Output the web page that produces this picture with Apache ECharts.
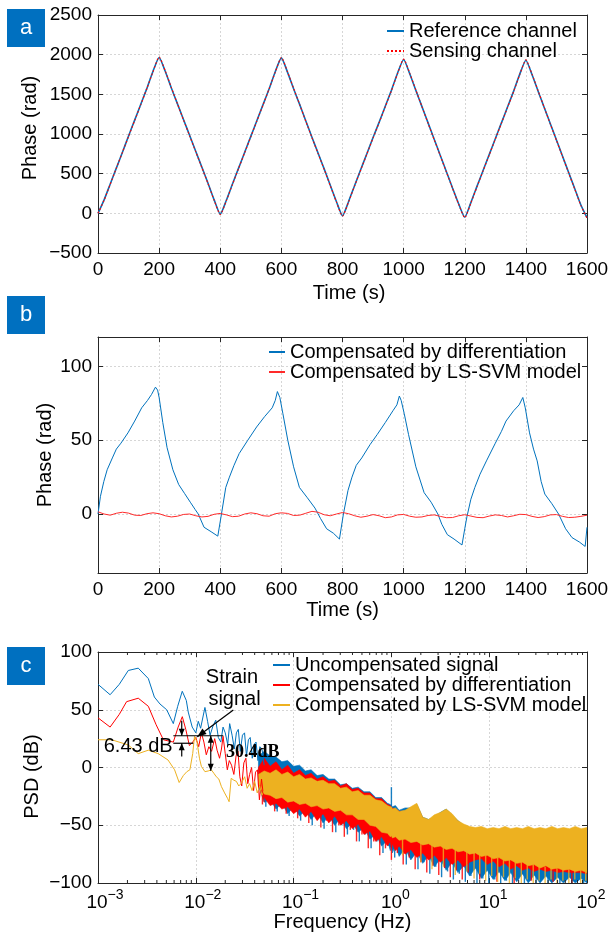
<!DOCTYPE html>
<html>
<head>
<meta charset="utf-8">
<script src="https://cdn.jsdelivr.net/npm/echarts@6/dist/echarts.min.js"></script>
<style>
  html, body { margin: 0; padding: 0; background: #fff; }
  #chart { width: 609px; height: 934px; }
</style>
</head>
<body>
<div id="chart"></div>
<script>
// ---------- panel a : phase of both channels ----------
const timeA = [0,20,40,60,80,100,120,140,160,180,200,220,240,260,280,300,320,340,360,380,
  400,420,440,460,480,500,520,540,560,580,600,620,640,660,680,700,720,740,760,780,
  800,820,840,860,880,900,920,940,960,980,1000,1020,1040,1060,1080,1100,1120,1140,1160,1180,
  1200,1220,1240,1260,1280,1300,1320,1340,1360,1380,1400,1420,1440,1460,1480,1500,1520,1540,1560,1580,1600];
const refPhase = [0,170,370,570,770,975,1175,1375,1575,1790,1965,1790,1580,1380,1180,980,780,580,380,170,
  -10,165,370,570,770,970,1170,1370,1570,1785,1960,1780,1570,1370,1165,960,760,560,355,150,
  -30,150,355,555,755,955,1150,1350,1550,1765,1940,1760,1550,1345,1140,935,730,525,320,120,
  -50,135,340,540,740,940,1140,1340,1540,1755,1930,1750,1540,1335,1130,925,720,515,310,105,-55];
const sensePhase = [0,165,365,570,770,970,1170,1370,1575,1785,1970,1795,1585,1380,1175,975,775,575,375,165,
  -15,160,365,565,765,965,1165,1365,1570,1780,1965,1785,1575,1370,1160,955,755,555,350,145,
  -35,145,350,550,750,950,1145,1345,1545,1760,1945,1765,1555,1345,1135,930,725,520,315,115,
  -55,130,335,535,735,935,1135,1335,1535,1750,1935,1755,1545,1335,1125,920,715,510,305,100,-60];

// ---------- panel b : compensated phase ----------
const timeDiff = [0,8,19,30,47,60,75,98,120,143,162,175,188,195,200,212,226,245,264,283,
  302,318,328,347,370,392,404,418,430,445,462,490,519,545,570,580,587,595,605,621,
  640,659,685,710,728,748,770,790,803,818,831,845,863,890,914,940,965,978,986,992,
  1002,1016,1040,1067,1090,1112,1125,1143,1165,1191,1200,1207,1220,1233,1250,1271,1300,1320,1335,1360,
  1378,1390,1398,1412,1425,1437,1450,1462,1485,1507,1530,1551,1575,1594,1600];
const phaseDiff = [0,12,22,30,38,44,48,55,63,72,77,81,86,84,79,62,45,30,20,14,
  8,3,0,-9,-12,-15,0,18,25,33,41,50,59,66,72,77,83,79,68,50,
  32,18,11,4,-3,-10,-13,-17,0,16,25,33,38,47,54,62,70,74,80,77,
  68,54,32,14.5,8,0,-7,-14,-17,-21,-10,-2,10,18,27,36,48,56,63,70,
  74,79,72,55,44,36,22,13.5,7,0,-10,-16,-19,-22,-9];
const phaseSvm = [1.5,0,-0.8,0.5,1.2,0.6,-0.8,-1,0.2,0.8,
  0.2,-1.2,-2,-1.5,-0.3,0,-1.2,-2,-1.6,-0.2,
  0.4,-0.6,-1.8,-1.5,0,0.8,0.2,-1.2,-1.5,0.2,
  0.8,0.4,-1,-0.8,0.5,1.8,1.2,-0.5,-1.2,0,
  1,0.2,-1.2,-2.2,-1.5,-0.4,-1.2,-2.5,-2,-0.6,
  -0.3,-1.5,-2.2,-2,-1,-0.6,-1.6,-2.5,-2.4,-1.2,
  -0.5,-1.4,-2.3,-2.5,-1.4,-0.6,-1,-2,-1.2,-0.2,
  -0.4,-1.6,-2.4,-1.8,-0.6,-0.4,-1.6,-2.4,-2.2,-1.6,-0.8];

// ---------- panel c : PSD ----------
// low frequency part, drawn as lines
const freqUncomp = [0.001,0.00133,0.00165,0.00204,0.00258,0.00327,0.00377,0.0043,0.00504,0.00589,
  0.00653,0.00727,0.008,0.00837,0.00919,0.0100,0.0106,0.0112,0.0124,0.0132,
  0.0140,0.0150,0.0160,0.0170,0.0180,0.0190,0.0200,0.0212,0.0222,0.0235,
  0.0248,0.0260,0.0272,0.0285,0.0300,0.0315,0.0330,0.0345,0.0360,0.0378,
  0.0395,0.0413,0.0432,0.0452,0.0475,0.050];
const psdUncomp = [72,63,72,84,86,77,61,55,50,38,53,66,58,48,35,30,40,34,52,40,
  28,36,41,26,22,35,30,20,38,28,16,30,33,14,28,30,10,24,26,8,20,22,6,18,16,2];
const freqDiff = [0.001,0.00133,0.00165,0.00196,0.00258,0.00327,0.00393,0.00466,0.00589,0.0066,
  0.00728,0.0079,0.0086,0.0093,0.0100,0.0107,0.0114,0.0121,0.0128,0.0136,
  0.0145,0.0156,0.0165,0.0175,0.0183,0.0190,0.0200,0.0210,0.0220,0.0232,
  0.0245,0.0258,0.0270,0.0282,0.0295,0.0310,0.0325,0.0340,0.0355,0.0372,
  0.0390,0.0408,0.0427,0.0447,0.0470,0.050];
const psdDiff = [43,35,46,57,60,53,37,24,22,35,44,33,19,22,26,18,30,22,11,18,
  14,25,15,8,16,27,12,-2,6,2,-6,10,14,-8,-16,4,8,-14,-6,0,-20,-4,-2,-28,-10,-30];
const freqSvm = [0.001,0.00138,0.00204,0.00258,0.00327,0.00413,0.0052,0.00607,0.00676,0.00745,
  0.0081,0.0087,0.0093,0.0097,0.0103,0.0109,0.0114,0.0124,0.0134,0.0144,
  0.0153,0.0162,0.0172,0.0183,0.0197,0.0212,0.0219,0.0230,0.0245,0.026,
  0.0275,0.0292,0.0316,0.0335,0.0355,0.0376,0.040,0.0425,0.045,0.0475,0.050];
const psdSvm = [24,24,19.5,12,15,12,6.5,-2,-13,-7,-3.6,-2,12,27,22,8,1,-3.6,-3,-2,
  -5,-8,-10,-16.6,-22,-27,-29.6,-9.4,-11,-12,-16,-13.7,-8,-18,-14,-20,-12,-22,-16,-24,-20];

// dense part above ~0.04 Hz: upper and lower edge of each band
const bandFreq = [0.0437,0.0501,0.0575,0.0661,0.0759,0.0871,0.1,0.115,0.132,0.151,
  0.174,0.2,0.229,0.263,0.302,0.347,0.398,0.457,0.525,0.603,
  0.692,0.794,0.912,0.975,1.0,1.025,1.1,1.2,1.38,1.58,
  1.82,2.09,2.4,2.75,3.16,3.63,4.17,4.79,5.5,6.31,
  7.24,8.32,9.55,11,12.6,14.5,16.6,19.1,21.9,25.1,
  28.8,33.1,38,43.7,50.1,57.5,66.1,75.9,87.1,100];
const uncompTop = [10,14,10,9,5,6,1,2,-3,-2,-7,-6,-10,-10,-15,-14,-18,-17,-21,-21,
  -26,-26,-31,-32,-33,-34,-33,-37,-35,-35,-32,-43,-45,-43,-39,-36,-41,-46,-50,-52,
  -54,-54,-54,-55,-54,-55,-54,-55,-54,-55,-54,-55,-54,-55,-54,-55,-54,-55,-54,-55];
const uncompLow = [-16,-30,-28,-36,-31,-40,-34,-42,-37,-45,-39,-48,-42,-50,-44,-53,-48,-56,-52,-62,
  -58,-68,-63,-72,-66,-74,-67,-77,-70,-80,-73,-83,-76,-86,-79,-89,-82,-91,-85,-94,
  -87,-96,-89,-97,-90,-98,-91,-99,-92,-100,-93,-100,-94,-100,-95,-100,-95,-100,-96,-100];
const diffTop = [0,8,1,5,-2,2,-5,-2,-7,-5,-10,-8,-12,-11,-16,-14,-19,-18,-22,-22,
  -27,-27,-32,-33,-35,-35,-36,-38,-38,-36,-33,-44,-46,-43,-41,-38,-42,-47,-50,-52,
  -53,-52,-54,-53,-54,-52,-54,-53,-54,-52,-54,-53,-54,-52,-54,-53,-54,-52,-54,-53];
const diffLow = [-15,-26,-33,-31,-36,-34,-40,-36,-43,-38,-46,-40,-48,-42,-50,-46,-53,-49,-58,-55,
  -64,-60,-68,-64,-70,-66,-72,-68,-75,-71,-78,-74,-80,-76,-82,-78,-84,-80,-86,-82,
  -80,-79,-84,-81,-86,-83,-88,-85,-89,-87,-90,-88,-90,-89,-91,-90,-91,-91,-91,-92];
const svmTop = [-6,-3,-5,-2,-6,-4,-8,-6,-10,-9,-12,-11,-14,-14,-18,-17,-21,-20,-24,-24,
  -28,-29,-33,-34,-34,-36,-35,-38,-37,-34,-31,-43,-45,-41,-39,-36,-40,-46,-49,-51,
  -52,-51,-53,-52,-53,-51,-53,-52,-53,-51,-53,-52,-53,-51,-53,-52,-53,-51,-53,-52];
const svmLow = [-14,-23,-24,-27,-26,-30,-29,-32,-31,-34,-33,-36,-35,-38,-37,-41,-41,-45,-45,-50,
  -51,-56,-57,-60,-59,-61,-60,-63,-62,-65,-64,-67,-66,-69,-68,-71,-70,-73,-72,-75,
  -74,-77,-76,-79,-78,-81,-80,-83,-82,-85,-84,-87,-85,-88,-87,-89,-88,-90,-89,-91];

// single spikes that stick out of the bands: [frequency, from dB, to dB]
const spikesUncomp = [[0.052,-20,-34],[0.060,-22,-30],[0.068,-24,-38],[0.079,-25,-33],[0.090,-27,-42],
  [0.103,-28,-36],[0.118,-29,-46],[0.135,-30,-40],[0.155,-31,-50],[0.178,-32,-43],
  [0.205,-33,-53],[0.235,-34,-47],[0.27,-35,-56],[0.31,-36,-50],[0.355,-38,-58],
  [0.41,-40,-54],[0.47,-42,-64],[0.54,-44,-58],[0.62,-47,-70],[0.71,-50,-64],
  [0.82,-53,-74],[0.94,-56,-68],[1.0,-34,-17],[1.08,-58,-78],[1.24,-59,-72],[1.42,-60,-84],
  [1.63,-61,-78],[1.87,-62,-88],[2.15,-63,-82],[2.47,-64,-92],[2.84,-65,-86],
  [3.26,-66,-95],[3.75,-67,-90],[4.3,-68,-97],[4.95,-69,-92],[5.7,-70,-99],
  [6.5,-71,-94],[7.5,-72,-100],[8.6,-73,-96],[9.9,-74,-100],[11.4,-75,-97],
  [13.1,-76,-100],[15,-77,-98],[17.3,-78,-100],[19.9,-79,-97],[22.9,-80,-100],
  [26.3,-81,-98],[30.2,-82,-100],[34.7,-83,-97],[40,-84,-100],[46,-84,-98],
  [52.8,-85,-100],[60.7,-86,-97],[69.8,-86,-100],[80.3,-87,-98],[92.3,-87,-100]];
const spikesDiff = [[0.048,-20,-32],[0.056,-23,-30],[0.064,-26,-38],[0.072,-27,-33],[0.084,-29,-40],
  [0.096,-30,-36],[0.11,-31,-44],[0.125,-32,-39],[0.143,-33,-48],[0.165,-34,-42],
  [0.19,-35,-52],[0.218,-36,-46],[0.25,-37,-56],[0.29,-38,-50],[0.33,-40,-60],
  [0.38,-42,-54],[0.44,-44,-64],[0.5,-46,-58],[0.58,-49,-70],[0.66,-52,-64],
  [0.76,-55,-76],[0.87,-58,-70],[1.0,-60,-80],[1.15,-61,-74],[1.32,-63,-84],
  [1.52,-64,-78],[1.75,-65,-88],[2.0,-66,-82],[2.3,-67,-91],[2.65,-68,-85],
  [3.05,-69,-93],[3.5,-70,-87],[4.0,-71,-95],[4.6,-72,-89],[5.3,-73,-97],
  [6.1,-74,-91],[8,-76,-97],[12,-79,-99],[18,-82,-100],[27,-85,-98],[45,-88,-99],[70,-89,-100]];
const spikesSvm = [[1.3,-60,-76],[2.0,-64,-82],[2.6,-66,-88],[3.4,-68,-86],[4.5,-70,-93],
  [5.9,-72,-90],[7.0,-74,-96],[8.0,-75,-92],[9.2,-76,-98],[10.6,-77,-94],
  [12.2,-78,-99],[14,-79,-95],[16.1,-80,-100],[18.5,-81,-96],[21.3,-82,-100],
  [24.5,-83,-97],[28.2,-84,-100],[32.4,-85,-98],[37.3,-86,-100],[42.9,-86,-97],
  [49.3,-87,-100],[56.7,-87,-98],[65.2,-88,-100],[75,-88,-97],[86.2,-89,-100],[97,-89,-98]];

// annotation of panel c (data coordinates)
const strainLevel = 27.5;
const diffLevel = 21;
const svmLevel = -2.9;
const upperMarkF = [0.00589, 0.0191];
const lowerMarkF = [0.00589, 0.00943];
const gapArrowF = 0.00718;
const dropArrowF = 0.01422;
const strainArrow = [[0.0242, 49.8], [0.01035, 26.7]];
const strainLabel = [[0.0234, 77.7, 'Strain'], [0.0249, 59.3, 'signal']];
const gapLabel = [0.0058, 18, '6.43 dB'];
const dropLabel = [0.0204, 12.8, '30.4dB'];

const xTicksTime = [0, 1600, 200];
const yTicksA = [-500, 2500, 500];
const yTicksB = [0, 50, 100];
const yTicksC = [-100, 100, 50];

const FONT = 'Liberation Sans';
const AXIS_COLOR = '#262626';
const BLUE = '#0072BD', RED = '#FF0000', YELLOW = '#EDB120';

function zip(xs, ys) { return xs.map((x, i) => [x, ys[i]]); }
function minus(v) { return String(v).replace('-', '\u2212'); }

const gridLine = { show: true, lineStyle: { color: '#d6d6d6', type: [2, 2], width: 1 } };
const tickStyle = { show: true, inside: true, length: 5, lineStyle: { color: AXIS_COLOR } };
const lineAxis = { show: true, onZero: false, lineStyle: { color: AXIS_COLOR, width: 1 } };
const labelStyle = { color: '#000', fontSize: 19, fontFamily: FONT };
const nameStyle = { color: '#000', fontSize: 20, fontFamily: FONT };

function bottomAxis(grid, opt) {
  return Object.assign({
    gridIndex: grid, type: 'value', position: 'bottom',
    axisLine: lineAxis, axisTick: tickStyle, splitLine: gridLine,
    axisLabel: Object.assign({ margin: 7, showMinLabel: true, showMaxLabel: true, formatter: minus }, labelStyle),
    nameLocation: 'middle', nameTextStyle: nameStyle, nameMoveOverlap: false
  }, opt);
}
function topAxis(grid, opt) {
  return Object.assign({
    gridIndex: grid, type: 'value', position: 'top',
    axisLine: lineAxis, axisTick: tickStyle, splitLine: { show: false }, axisLabel: { show: false }
  }, opt);
}
function leftAxis(grid, opt) {
  return Object.assign({
    gridIndex: grid, type: 'value', position: 'left',
    axisLine: lineAxis, axisTick: tickStyle, splitLine: gridLine,
    axisLabel: Object.assign({ margin: 6, formatter: minus }, labelStyle),
    nameLocation: 'middle', nameTextStyle: nameStyle, nameMoveOverlap: false
  }, opt);
}
function rightAxis(grid, opt) {
  return Object.assign({
    gridIndex: grid, type: 'value', position: 'right',
    axisLine: lineAxis, axisTick: tickStyle, splitLine: { show: false }, axisLabel: { show: false }
  }, opt);
}

// minor ticks of the log axis (2..9 of each decade)
const minorTicks = [];
for (let e = -3; e < 2; e++) for (let m = 2; m < 10; m++) minorTicks.push([m * Math.pow(10, e), 0]);

function bandSeries(top, bot, color) {
  return {
    type: 'custom', xAxisIndex: 4, yAxisIndex: 4, silent: true, clip: true,
    data: [[1, 0]],
    renderItem: (params, api) => {
      const pts = bandFreq.map((f, i) => api.coord([f, top[i]]));
      for (let i = bandFreq.length - 1; i >= 0; i--) pts.push(api.coord([bandFreq[i], bot[i]]));
      return { type: 'polygon', shape: { points: pts }, style: { fill: color, stroke: color, lineWidth: 0.6 } };
    }
  };
}

function spikeSeries(list, color, opacity) {
  return {
    type: 'custom', xAxisIndex: 4, yAxisIndex: 4, silent: true, clip: true, data: list,
    renderItem: (params, api) => {
      const a = api.coord([api.value(0), api.value(1)]);
      const b = api.coord([api.value(0), api.value(2)]);
      return { type: 'line', shape: { x1: a[0], y1: a[1], x2: b[0], y2: b[1] },
        style: { stroke: color, lineWidth: 1.4, opacity: opacity } };
    }
  };
}

function seg(a, b) {
  return { type: 'line', shape: { x1: a[0], y1: a[1], x2: b[0], y2: b[1] }, style: { stroke: '#000', lineWidth: 1.2 } };
}
function head(tip, from, len, half) {
  const dx = tip[0] - from[0], dy = tip[1] - from[1];
  const d = Math.hypot(dx, dy) || 1;
  const ux = dx / d, uy = dy / d;
  const bx = tip[0] - ux * len, by = tip[1] - uy * len;
  return { type: 'polygon', shape: { points: [tip, [bx - uy * half, by + ux * half], [bx + uy * half, by - ux * half]] }, style: { fill: '#000' } };
}
function label(p, text, font, align) {
  return { type: 'text', x: p[0], y: p[1], style: { text: text, fill: '#000', font: font, align: align, verticalAlign: 'middle' } };
}

function renderNotes(params, api) {
  const c = v => api.coord(v);
  const kids = [];
  kids.push(seg(c([upperMarkF[0], strainLevel]), c([upperMarkF[1], strainLevel])));
  kids.push(seg(c([lowerMarkF[0], diffLevel]), c([lowerMarkF[1], diffLevel])));
  // 6.43 dB arrows
  const a0 = c([gapArrowF, 40.5]), a1 = c([gapArrowF, strainLevel]);
  kids.push(seg(a0, a1), head(a1, a0, 7, 3));
  const b0 = c([gapArrowF, 9.5]), b1 = c([gapArrowF, diffLevel]);
  kids.push(seg(b0, b1), head(b1, b0, 7, 3));
  // 30.4 dB double arrow
  const d0 = c([dropArrowF, strainLevel]), d1 = c([dropArrowF, svmLevel]);
  kids.push(seg(d0, d1), head(d1, d0, 7, 3), head(d0, d1, 7, 3));
  // strain signal arrow
  const s0 = c(strainArrow[0]), s1 = c(strainArrow[1]);
  kids.push(seg(s0, s1), head(s1, s0, 9, 3.5));
  strainLabel.forEach(t => kids.push(label(c([t[0], t[1]]), t[2], '20px "Liberation Sans"', 'center')));
  kids.push(label(c([gapLabel[0], gapLabel[1]]), gapLabel[2], '20px "Liberation Sans"', 'right'));
  kids.push(label(c([dropLabel[0], dropLabel[1]]), dropLabel[2], 'bold 18px "Liberation Serif"', 'left'));
  return { type: 'group', children: kids };
}

function renderMinor(params, api) {
  const f = api.value(0);
  const b = api.coord([f, yTicksC[0]]), t = api.coord([f, yTicksC[1]]);
  return { type: 'group', children: [
    { type: 'line', shape: { x1: b[0], y1: b[1], x2: b[0], y2: b[1] - 3 }, style: { stroke: AXIS_COLOR, lineWidth: 1 } },
    { type: 'line', shape: { x1: t[0], y1: t[1], x2: t[0], y2: t[1] + 3 }, style: { stroke: AXIS_COLOR, lineWidth: 1 } }
  ] };
}

function logLabel(v) {
  const e = Math.round(Math.log10(v));
  const s = e < 0 ? '\u2212' + (-e) : String(e);
  return '{' + (e < 0 ? 'pw' : 'pn') + '|}{b|10}{sup|' + s + '}';
}

function tag(x, y, text) {
  return {
    type: 'rect', x: x, y: y, shape: { x: 0, y: 0, width: 38, height: 38 },
    style: { fill: '#0070C0' },
    textContent: { style: { text: text, fill: '#fff', font: '22px "Liberation Sans"' } },
    textConfig: { position: 'inside' }
  };
}

const legendBase = {
  orient: 'vertical', padding: 0, itemGap: 0, itemWidth: 17, itemHeight: 10, selectedMode: false,
  itemStyle: { opacity: 0 },
  textStyle: { color: '#000', fontSize: 20, fontFamily: FONT, lineHeight: 20 }
};

const option = {
  animation: false,
  backgroundColor: '#fff',
  graphic: [tag(7, 9, 'a'), tag(7, 296, 'b'), tag(7, 647, 'c')],
  grid: [
    { left: 98, top: 15, width: 489, height: 238, containLabel: false, outerBoundsMode: 'none' },
    { left: 98, top: 337, width: 489, height: 236, containLabel: false, outerBoundsMode: 'none' },
    { left: 98, top: 652, width: 489, height: 231, containLabel: false, outerBoundsMode: 'none' }
  ],
  legend: [
    Object.assign({ left: 386, top: 21, data: ['Reference channel', 'Sensing channel'] }, legendBase),
    Object.assign({}, legendBase, { left: 268, top: 342, itemWidth: 16, data: ['Compensated by differentiation', 'Compensated by LS-SVM model'],
      textStyle: { color: '#000', fontSize: 20, fontFamily: FONT, lineHeight: 18 } }),
    Object.assign({ left: 272, top: 655, data: ['Uncompensated signal', 'Compensated by differentiation ', 'Compensated by LS-SVM model '] }, legendBase)
  ],
  xAxis: [
    bottomAxis(0, { min: xTicksTime[0], max: xTicksTime[1], interval: xTicksTime[2], name: 'Time (s)', nameGap: 30,
      nameTextStyle: Object.assign({ padding: [0, 0, 0, 13] }, nameStyle) }),
    topAxis(0, { min: xTicksTime[0], max: xTicksTime[1], interval: xTicksTime[2] }),
    bottomAxis(1, { min: xTicksTime[0], max: xTicksTime[1], interval: xTicksTime[2], name: 'Time (s)', nameGap: 27 }),
    topAxis(1, { min: xTicksTime[0], max: xTicksTime[1], interval: xTicksTime[2] }),
    bottomAxis(2, { type: 'log', logBase: 10, min: 0.001, max: 100, name: 'Frequency (Hz)', nameGap: 29,
      axisLabel: { margin: 5, showMinLabel: true, showMaxLabel: true, color: '#000', fontFamily: FONT, formatter: logLabel,
        rich: {
          pw: { width: 14 }, pn: { width: 8 },
          b: { fontSize: 19, fontFamily: FONT, color: '#000', padding: [5, 0, 0, 0] },
          sup: { fontSize: 14, fontFamily: FONT, color: '#000', verticalAlign: 'top' }
        } } }),
    topAxis(2, { type: 'log', logBase: 10, min: 0.001, max: 100 })
  ],
  yAxis: [
    leftAxis(0, { min: yTicksA[0], max: yTicksA[1], interval: yTicksA[2], name: 'Phase (rad)', nameGap: 58,
      nameTextStyle: Object.assign({ padding: [0, 0, 0, 12] }, nameStyle) }),
    rightAxis(0, { min: yTicksA[0], max: yTicksA[1], interval: yTicksA[2] }),
    leftAxis(1, { min: -40, max: 120, name: 'Phase (rad)', nameGap: 43,
      axisLabel: Object.assign({ margin: 6, formatter: minus, customValues: yTicksB }, labelStyle),
      axisTick: Object.assign({ customValues: yTicksB }, tickStyle) }),
    rightAxis(1, { min: -40, max: 120, axisTick: Object.assign({ customValues: yTicksB }, tickStyle) }),
    leftAxis(2, { min: yTicksC[0], max: yTicksC[1], interval: yTicksC[2], name: 'PSD (dB)', nameGap: 56,
      nameTextStyle: Object.assign({ padding: [0, 18, 0, 0] }, nameStyle) }),
    rightAxis(2, { min: yTicksC[0], max: yTicksC[1], interval: yTicksC[2] })
  ],
  series: [
    { type: 'line', name: 'Reference channel', xAxisIndex: 0, yAxisIndex: 0, data: zip(timeA, refPhase), smooth: 0.2,
      symbol: 'none', lineStyle: { color: BLUE, width: 1.6 }, itemStyle: { color: BLUE } },
    { type: 'line', name: 'Sensing channel', xAxisIndex: 0, yAxisIndex: 0, data: zip(timeA, sensePhase), smooth: 0.2,
      symbol: 'none', lineStyle: { color: RED, width: 1.1, type: [2, 2] }, itemStyle: { color: RED } },

    { type: 'line', name: 'Compensated by differentiation', xAxisIndex: 2, yAxisIndex: 2, data: zip(timeDiff, phaseDiff),
      symbol: 'none', lineStyle: { color: BLUE, width: 1 }, itemStyle: { color: BLUE } },
    { type: 'line', name: 'Compensated by LS-SVM model', xAxisIndex: 2, yAxisIndex: 2, data: zip(timeA, phaseSvm),
      symbol: 'none', lineStyle: { color: '#FF2A2A', width: 1 }, itemStyle: { color: '#FF2A2A' } },

    { type: 'line', name: 'Uncompensated signal', xAxisIndex: 4, yAxisIndex: 4, data: zip(freqUncomp, psdUncomp),
      symbol: 'none', lineStyle: { color: BLUE, width: 1 }, itemStyle: { color: BLUE } },
    bandSeries(uncompTop, uncompLow, BLUE),
    spikeSeries(spikesUncomp, BLUE, 0.9),
    { type: 'line', name: 'Compensated by differentiation ', xAxisIndex: 4, yAxisIndex: 4, data: zip(freqDiff, psdDiff),
      symbol: 'none', lineStyle: { color: RED, width: 1 }, itemStyle: { color: RED } },
    bandSeries(diffTop, diffLow, RED),
    spikeSeries(spikesDiff, RED, 0.85),
    { type: 'line', name: 'Compensated by LS-SVM model ', xAxisIndex: 4, yAxisIndex: 4, data: zip(freqSvm, psdSvm),
      symbol: 'none', lineStyle: { color: YELLOW, width: 1 }, itemStyle: { color: YELLOW } },
    spikeSeries(spikesSvm, YELLOW, 0.8),
    bandSeries(svmTop, svmLow, YELLOW),

    { type: 'custom', xAxisIndex: 4, yAxisIndex: 4, silent: true, data: minorTicks, renderItem: renderMinor, z: 5 },
    { type: 'custom', xAxisIndex: 4, yAxisIndex: 4, silent: true, data: [[1, 0]], renderItem: renderNotes, z: 6 }
  ]
};

const chart = echarts.init(document.getElementById('chart'));
chart.setOption(option);
</script>
</body>
</html>
